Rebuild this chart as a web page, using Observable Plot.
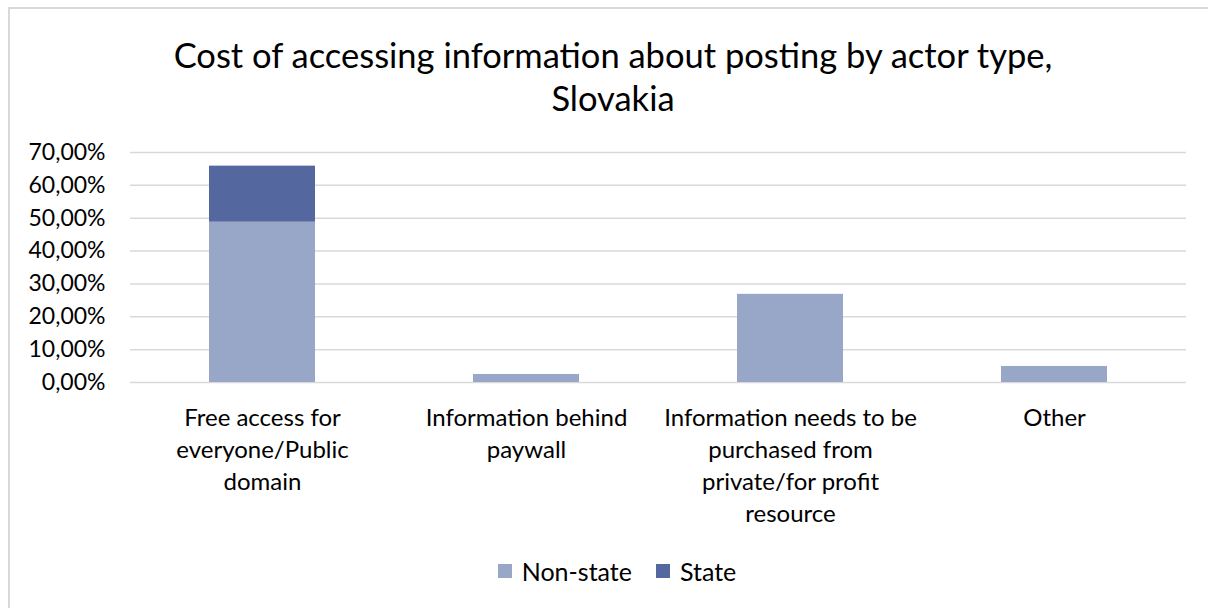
<!DOCTYPE html>
<html>
<head>
<meta charset="utf-8">
<script src="https://cdn.jsdelivr.net/npm/d3@7"></script>
<script src="https://cdn.jsdelivr.net/npm/@observablehq/plot@0.6"></script>
<style>
  html, body { margin: 0; padding: 0; background: #fff; }
  #frame { position: relative; width: 1208px; height: 608px; overflow: hidden; font-family: Lato, "Open Sans", sans-serif; color: #000; }
  #border { position: absolute; left: 8px; top: 7px; width: 1220px; height: 620px; border: 2px solid #d9d9d9; box-sizing: border-box; pointer-events: none; }
  #title { height: 135px; box-sizing: border-box; padding-top: 33px; padding-left: 18px; text-align: center; font-size: 34.5px; line-height: 43px; }
  #chart svg { display: block; }
  #legend { display: flex; justify-content: center; align-items: center; gap: 0; font-size: 25px; margin-top: 14px; padding-left: 26px; }
  .sw { display: inline-block; width: 14px; height: 14px; margin-right: 10px; }
  .item { display: flex; align-items: center; margin: 0 12px; }
</style>
</head>
<body>
<div id="frame">
  <div id="border"></div>
  <div id="title">Cost of accessing information about posting by actor type,<br>Slovakia</div>
  <div id="chart"></div>
  <div id="legend"></div>
</div>
<script>
const categories = [
  "Free access for everyone/Public domain",
  "Information behind paywall",
  "Information needs to be purchased from private/for profit resource",
  "Other"
];
const categoryLabels = [
  "Free access for\neveryone/Public\ndomain",
  "Information behind\npaywall",
  "Information needs to be\npurchased from\nprivate/for profit\nresource",
  "Other"
];
const series = ["Non-state", "State"];
const nonStateValues = [48.78, 2.44, 26.83, 4.88];
const stateValues = [17.07, 0, 0, 0];
const seriesColors = ["#98A6C8", "#55679F"];
const yTicks = [0, 10, 20, 30, 40, 50, 60, 70];

const data = [];
categories.forEach((c, i) => {
  data.push({category: c, series: series[0], value: nonStateValues[i]});
  data.push({category: c, series: series[1], value: stateValues[i]});
});
const labelMap = new Map(categories.map((c, i) => [c, categoryLabels[i]]));

const chart = Plot.plot({
  width: 1208,
  height: 407,
  marginTop: 17,
  marginBottom: 160,
  marginLeft: 130,
  marginRight: 22,
  style: {fontFamily: "Lato, 'Open Sans', sans-serif", fontSize: "23px", color: "#000", background: "#fff"},
  x: {domain: categories, padding: 0, label: null, axis: null},
  y: {domain: [0, 70], label: null, axis: null},
  color: {domain: series, range: seriesColors},
  marks: [
    Plot.gridY(yTicks, {stroke: "#d9d9d9", strokeOpacity: 1, strokeWidth: 1.5}),
    Plot.barY(data, Plot.stackY({x: "category", y: "value", fill: "series", order: series, insetLeft: 79, insetRight: 79})),
    Plot.axisY(yTicks, {tickSize: 0, tickPadding: 25, label: null, fontSize: 23, tickFormat: d => d.toFixed(2).replace(".", ",") + "%"}),
    Plot.axisX({tickSize: 0, tickPadding: 21, label: null, fontSize: 24, lineHeight: 1.333, tickFormat: d => labelMap.get(d)})
  ]
});
document.getElementById("chart").appendChild(chart);

const legend = document.getElementById("legend");
series.forEach((s, i) => {
  const it = document.createElement("div");
  it.className = "item";
  const sw = document.createElement("span");
  sw.className = "sw";
  sw.style.background = seriesColors[i];
  it.appendChild(sw);
  it.appendChild(document.createTextNode(s));
  legend.appendChild(it);
});
</script>
</body>
</html>
